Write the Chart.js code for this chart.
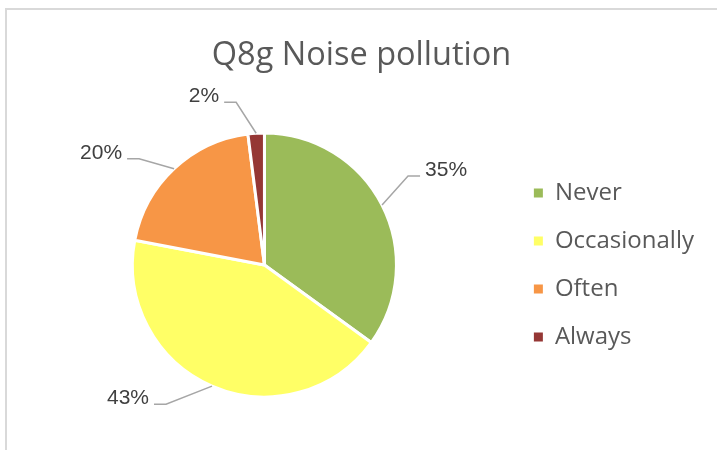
<!DOCTYPE html>
<html>
<head>
<meta charset="utf-8">
<script src="https://cdn.jsdelivr.net/npm/chart.js@4/dist/chart.umd.min.js"></script>
<style>
  html, body { margin: 0; padding: 0; background: #fff; }
  #wrap { position: relative; width: 717px; height: 450px; overflow: hidden; }
  #frame { position: absolute; left: 5px; top: 8px; width: 760px; height: 500px; border: 2px solid #D9D9D9; box-sizing: border-box; }
  #c { position: absolute; left: 0; top: 0; }
</style>
</head>
<body>
<div id="wrap">
  <div id="frame"></div>
  <canvas id="c" width="717" height="450"></canvas>
</div>
<script>
const chartTitle = "Q8g Noise pollution";
const categories = ["Never", "Occasionally", "Often", "Always"];
const percentages = [35, 43, 20, 2];
const sliceColors = ["#9BBB59", "#FFFF66", "#F79646", "#953735"];

// leader-line elbow offsets (px) from each slice's outer edge midpoint
const leaderOffsets = [[26, -29], [-46, 18], [-35, -10], [-20, -31]];

const leaderLabels = {
  id: 'leaderLabels',
  afterDatasetsDraw(chart) {
    const ctx = chart.ctx;
    const meta = chart.getDatasetMeta(0);
    const data = chart.data.datasets[0].data;
    const total = data.reduce((a, b) => a + b, 0);
    ctx.save();
    meta.data.forEach((arc, i) => {
      const p = arc.getProps(['x', 'y', 'startAngle', 'endAngle', 'outerRadius'], true);
      const mid = (p.startAngle + p.endAngle) / 2;
      const ex = p.x + Math.cos(mid) * p.outerRadius;
      const ey = p.y + Math.sin(mid) * p.outerRadius;
      const off = leaderOffsets[i];
      const bx = ex + off[0], by = ey + off[1];
      const dir = off[0] >= 0 ? 1 : -1;
      const hx = bx + dir * 12;
      ctx.strokeStyle = '#A6A6A6';
      ctx.lineWidth = 1.5;
      ctx.beginPath();
      ctx.moveTo(ex, ey);
      ctx.lineTo(bx, by);
      ctx.lineTo(hx, by);
      ctx.stroke();
      ctx.fillStyle = '#404040';
      ctx.font = '21px "Liberation Sans", Arial, sans-serif';
      ctx.textAlign = dir > 0 ? 'left' : 'right';
      ctx.textBaseline = 'alphabetic';
      const txt = Math.round(data[i] / total * 100) + '%';
      ctx.fillText(txt, hx + dir * 5, by);
    });
    ctx.restore();
  }
};

new Chart(document.getElementById('c'), {
  type: 'pie',
  data: {
    labels: categories,
    datasets: [{
      data: percentages,
      backgroundColor: sliceColors,
      borderColor: '#FFFFFF',
      borderWidth: 3
    }]
  },
  options: {
    responsive: false,
    animation: false,
    devicePixelRatio: 1,
    layout: { padding: { left: 19, right: 13, top: 0, bottom: 51.5 } },
    plugins: {
      title: {
        display: true,
        text: chartTitle,
        color: '#595959',
        font: { family: '"Open Sans", sans-serif', size: 32.5, weight: 'normal' },
        padding: { top: 36.5, bottom: 56 }
      },
      legend: {
        position: 'right',
        fullSize: false,
        labels: {
          boxWidth: 9,
          boxHeight: 9,
          padding: 24,
          color: '#595959',
          font: { family: '"Open Sans", sans-serif', size: 24 },
          generateLabels(chart) {
            const items = Chart.overrides.pie.plugins.legend.labels.generateLabels(chart);
            return items.map(it => Object.assign(it, { lineWidth: 0, strokeStyle: it.fillStyle }));
          }
        }
      },
      tooltip: { enabled: false }
    }
  },
  plugins: [leaderLabels]
});
</script>
</body>
</html>
